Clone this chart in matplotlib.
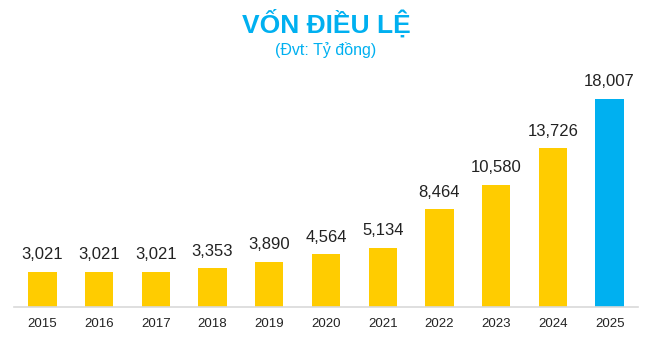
import matplotlib.pyplot as plt

years = ['2015', '2016', '2017', '2018', '2019', '2020', '2021', '2022', '2023', '2024', '2025']
von = [3021, 3021, 3021, 3353, 3890, 4564, 5134, 8464, 10580, 13726, 18007]
mau = ['#FFCC00'] * 10 + ['#00B0F0']

plt.rcParams['font.family'] = ['Liberation Sans', 'DejaVu Sans']

fig = plt.figure(figsize=(6.52, 3.40), dpi=100)
ax = fig.add_axes([0.0215, 0.097, 0.957, 0.7265])

x = range(len(years))
bars = ax.bar(x, von, width=0.5, color=mau)

for b, v in zip(bars, von):
    ax.annotate(f'{v:,}', (b.get_x() + b.get_width() / 2, v), xytext=(0, 7),
                textcoords='offset points', ha='center', va='bottom',
                fontsize=12, color='#222222')

ax.set_xlim(-0.5, 10.5)
ax.set_ylim(0, 21383)
ax.set_xticks(list(x))
ax.set_xticklabels(years, fontsize=9.5, color='#222222')
ax.tick_params(axis='x', length=0, pad=8)
ax.set_yticks([])
for s in ['top', 'right', 'left']:
    ax.spines[s].set_visible(False)
ax.spines['bottom'].set_color('#D9D9D9')
ax.spines['bottom'].set_linewidth(1.2)

fig.text(0.5, 1 - 23 / 340, 'VỐN ĐIỀU LỆ', ha='center', va='center',
         fontsize=19, fontweight='bold', color='#00B0F0')
fig.text(0.5, 1 - 50 / 340, '(Đvt: Tỷ đồng)', ha='center', va='center',
         fontsize=11.5, color='#00B0F0')

plt.savefig('out.png', dpi=100)
